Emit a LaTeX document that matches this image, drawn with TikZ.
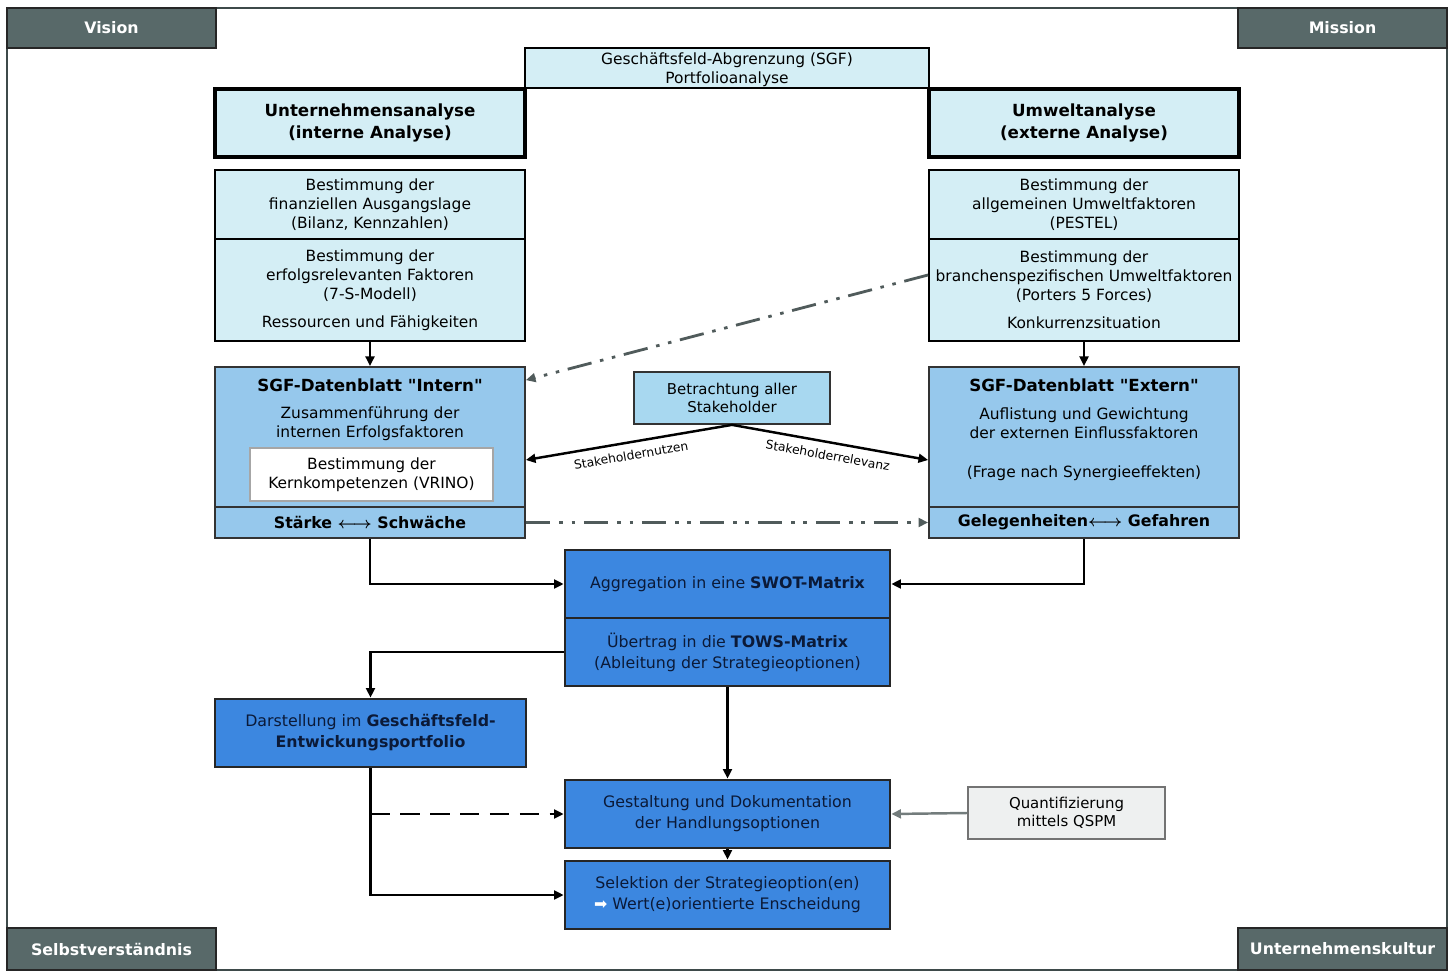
\documentclass[tikz,border=0pt]{standalone}
\usepackage{fontspec}
\setmainfont{DejaVu Sans}
\usepackage{xcolor}
\definecolor{cframe}{HTML}{3E4A4A}
\definecolor{ccorner}{HTML}{586969}
\definecolor{ccyan}{HTML}{D4EEF5}
\definecolor{cdaten}{HTML}{96C8EC}
\definecolor{cbetr}{HTML}{A8D8F0}
\definecolor{cblue}{HTML}{3C87E0}
\definecolor{cquant}{HTML}{EEF0F0}
\definecolor{cline}{HTML}{505B5B}
\definecolor{cnavy}{HTML}{0B1A38}
\usepackage{tikz}
\usetikzlibrary{arrows.meta, positioning}

\newcommand{\dblarrow}{{\boldmath$\longleftrightarrow$}}

\tikzset{
  corner/.style={draw=black!85, line width=1.2pt, fill=ccorner, text=white,
    font=\fontsize{9}{11}\selectfont\bfseries, minimum width=4.18cm, minimum height=0.8cm, inner sep=0pt},
  cyanbox/.style={draw=black, line width=1.1pt, fill=ccyan, align=center,
    font=\fontsize{8.8}{10.8}\selectfont, minimum width=6.2cm, inner sep=1pt},
  headbox/.style={cyanbox, line width=1.8pt, font=\fontsize{9.5}{12}\selectfont\bfseries, minimum height=1.36cm},
  datenbox/.style={draw=black!80, line width=1pt, fill=cdaten, align=center, minimum width=6.2cm, inner sep=1pt},
  bluebox/.style={draw=black!85, line width=1.5pt, fill=cblue, text=cnavy, align=center,
    font=\fontsize{9}{12}\selectfont, minimum width=6.5cm, minimum height=1.36cm, inner sep=1pt},
  txt/.style={align=center, font=\fontsize{8.8}{10.8}\selectfont, inner sep=1pt},
  headtxt/.style={txt, font=\fontsize{9.5}{11}\selectfont\bfseries},
  smallbox/.style={txt, line width=1pt, font=\fontsize{8.5}{10.5}\selectfont, minimum width=3.92cm, minimum height=1.04cm},
  lbl/.style={font=\fontsize{7}{8}\selectfont, inner sep=4pt},
  conn/.style={->, >={Triangle[length=5.5pt,width=5pt]}, line width=1.4pt, black},
  dashdot/.style={->, >={Triangle[length=5.5pt,width=5pt]}, line width=1.6pt, cline,
    dash pattern=on 14pt off 5pt on 2pt off 5pt on 2pt off 5pt},
}

\begin{document}
\begin{tikzpicture}[x=0.02cm, y=-0.02cm]
  \useasboundingbox (0,0) rectangle (1453,979);
  % Rahmen
  \draw[cframe, line width=1.2pt] (7,8) rectangle (1447,970);
  % Ecken
  \node[corner] (vision) at (111.5,28) {Vision};
  \node[corner] (mission) at (1342.5,28) {Mission};
  \node[corner, minimum height=0.84cm] (selbst) at (111.5,949) {Selbstverständnis};
  \node[corner, minimum height=0.84cm] (kultur) at (1342.5,949) {Unternehmenskultur};

  % Analyse oben
  \node[cyanbox, minimum width=8.08cm, minimum height=0.8cm, text depth=-3pt] (sgf) at (727,68) {Geschäftsfeld-Abgrenzung (SGF)\\Portfolioanalyse};
  \node[headbox] (ua) at (370,123) {Unternehmensanalyse\\(interne Analyse)};
  \node[headbox] (wa) at (1084,123) {Umweltanalyse\\(externe Analyse)};
  \node[cyanbox, minimum height=1.38cm] (uaA) at (370,204.5) {Bestimmung der\\finanziellen Ausgangslage\\(Bilanz, Kennzahlen)};
  \node[cyanbox, minimum height=2.04cm] (uaB) at (370,290) {Bestimmung der\\erfolgsrelevanten Faktoren\\(7-S-Modell)\\[5pt]Ressourcen und Fähigkeiten};
  \node[cyanbox, minimum height=1.38cm] (waA) at (1084,204.5) {Bestimmung der\\allgemeinen Umweltfaktoren\\(PESTEL)};
  \node[cyanbox, minimum height=2.04cm] (waB) at (1084,290) {Bestimmung der\\branchenspezifischen Umweltfaktoren\\(Porters 5 Forces)\\[5pt]Konkurrenzsituation};

  % Datenblaetter
  \node[datenbox, minimum height=2.8cm] (intern) at (370,437) {};
  \node[datenbox, minimum height=0.62cm, font=\fontsize{9}{11}\selectfont\bfseries] (internB) at (370,522.5) {Stärke \dblarrow{} Schwäche};
  \node[headtxt, below=6pt of intern.north] (internT) {SGF-Datenblatt \textquotedbl Intern\textquotedbl};
  \node[txt] (internS) at (370,424) {Zusammenführung der\\internen Erfolgsfaktoren};
  \node[txt, draw=black!35, line width=0.8pt, fill=white, minimum width=4.86cm, minimum height=1.06cm] (vrino) at (371.5,474.5) {Bestimmung der\\Kernkompetenzen (VRINO)};
  \node[datenbox, minimum height=2.8cm] (extern) at (1084,437) {};
  \node[datenbox, minimum height=0.62cm, font=\fontsize{9}{11}\selectfont\bfseries] (externB) at (1084,522.5) {Gelegenheiten\dblarrow{} Gefahren};
  \node[headtxt, below=6pt of extern.north] (externT) {SGF-Datenblatt \textquotedbl Extern\textquotedbl};
  \node[txt] (externS) at (1084,423) {Auflistung und Gewichtung\\der externen Einflussfaktoren};
  \node[txt] (externF) at (1084,473) {(Frage nach Synergieeffekten)};
  \node[smallbox, draw=black!80, fill=cbetr] (betr) at (732,398) {Betrachtung aller\\Stakeholder};

  % SWOT / TOWS
  \node[bluebox] (swotA) at (727.5,584) {Aggregation in eine \textbf{SWOT-Matrix}};
  \node[bluebox] (swotB) at (727.5,652) {Übertrag in die \textbf{TOWS-Matrix}\\(Ableitung der Strategieoptionen)};
  \node[bluebox, minimum width=6.22cm] (darst) at (370.5,733) {Darstellung im \textbf{Geschäftsfeld-}\\\textbf{Entwickungsportfolio}};
  \node[bluebox] (gest) at (727.5,814) {Gestaltung und Dokumentation\\der Handlungsoptionen};
  \node[bluebox] (selek) at (727.5,895) {Selektion der Strategieoption(en)\\{\color{white}➡} Wert(e)orientierte Enscheidung};
  \node[smallbox, draw=black!55, fill=cquant, minimum width=3.94cm] (quant) at (1066.5,813) {Quantifizierung\\mittels QSPM};

  % Verbindungen
  \draw[conn] (uaB.south) -- (intern.north);
  \draw[conn] (waB.south) -- (extern.north);
  \draw[dashdot] ([yshift=0.3cm]waB.west) -- ([yshift=-0.28cm]intern.north east);
  \draw[dashdot] (internB.east) -- (externB.west);
  \draw[conn, <-] ([yshift=-0.46cm]intern.east) -- node[lbl, sloped, below] {Stakeholdernutzen} (betr.south);
  \draw[conn] (betr.south) -- node[lbl, sloped, below] {Stakeholderrelevanz} ([yshift=-0.46cm]extern.west);
  \draw[conn] (internB.south) |- (swotA.west);
  \draw[conn] (externB.south) |- (swotA.east);
  \draw[conn] (swotB.west) -| (darst.north);
  \draw[conn] (swotB.south) -- (gest.north);
  \draw[conn] (darst.south) |- (selek.west);
  \draw[conn, dash pattern=on 11pt off 6pt] (darst.south |- gest.west) -- (gest.west);
  \draw[conn] (gest.south) -- (selek.north);
  \draw[conn, cline!80] (quant.west) -- (gest.east);
\end{tikzpicture}
\end{document}
